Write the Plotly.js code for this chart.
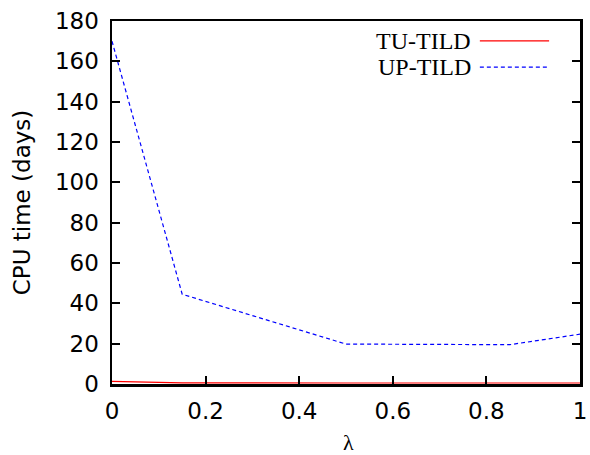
<!DOCTYPE html>
<html>
<head>
<meta charset="utf-8">
<script src="https://cdn.plot.ly/plotly-3.0.1.min.js"></script>
<style>html,body{margin:0;padding:0;background:#fff;}#chart{width:590px;height:455px;}</style>
</head>
<body>
<div id="chart"></div>
<script>
const lambdaValues = [0, 0.15, 0.5, 0.85, 1];
const tuTild = [1.3, 0.6, 0.5, 0.5, 0.5];
const upTild = [170, 44.5, 19.8, 19.5, 24.7];
const seriesNames = ["TU-TILD", "UP-TILD"];
const xTickVals = [0, 0.2, 0.4, 0.6, 0.8, 1];
const xTickText = ["0", "0.2", "0.4", "0.6", "0.8", "1"];
const yTickVals = [0, 20, 40, 60, 80, 100, 120, 140, 160, 180];
const xTitle = "λ";

const tickFont = {family: "DejaVu Sans", size: 23, color: "#000"};
const serif = "Liberation Serif, DejaVu Serif, serif";

const traces = [
  {x: lambdaValues, y: tuTild, name: seriesNames[0], mode: "lines",
   line: {color: "#ff0000", width: 1.2}, showlegend: false, cliponaxis: true},
  {x: lambdaValues, y: upTild, name: seriesNames[1], mode: "lines",
   line: {color: "#0000ff", width: 1.2, dash: "4px,3px"}, showlegend: false, cliponaxis: true}
];

const legY = [0.945, 0.873];
const legColors = ["#ff0000", "#0000ff"];
const legDash = ["solid", "4px,3px"];

const annotations = seriesNames.map((n, i) => ({
  text: n, xref: "paper", yref: "paper", x: 0.771, y: legY[i],
  xanchor: "right", yanchor: "middle", showarrow: false,
  font: {family: serif, size: 24, color: "#000"}
}));
annotations.push({
  text: xTitle, xref: "paper", yref: "paper", x: 0.505, y: -0.16,
  xanchor: "center", yanchor: "middle", showarrow: false,
  font: {family: serif, size: 22, color: "#000"}
});

const layout = {
  width: 590, height: 455,
  margin: {l: 112, r: 10, t: 21, b: 71},
  paper_bgcolor: "#fff", plot_bgcolor: "#fff",
  showlegend: false,
  xaxis: {
    range: [0, 1], tickvals: xTickVals, ticktext: xTickText,
    ticks: "inside", ticklen: 8, tickwidth: 2, tickcolor: "#000",
    showline: true, linecolor: "#000", linewidth: 2.5, mirror: true,
    showgrid: false, zeroline: false, tickfont: tickFont,
    ticklabelstandoff: 5
  },
  yaxis: {
    range: [0, 180], tickvals: yTickVals,
    ticks: "inside", ticklen: 8, tickwidth: 2, tickcolor: "#000",
    showline: true, linecolor: "#000", linewidth: 2.5, mirror: "ticks",
    showgrid: false, zeroline: false, tickfont: tickFont,
    ticklabelstandoff: 6,
    title: {text: "CPU time (days)", font: {family: "DejaVu Sans", size: 23, color: "#000"}, standoff: 18}
  },
  annotations: annotations,
  shapes: seriesNames.map((n, i) => ({
    type: "line", xref: "paper", yref: "paper",
    x0: 0.786, x1: 0.934, y0: legY[i], y1: legY[i],
    line: {color: legColors[i], width: 1.2, dash: legDash[i]}
  }))
};

Plotly.newPlot("chart", traces, layout, {displayModeBar: false, staticPlot: true});
</script>
</body>
</html>
